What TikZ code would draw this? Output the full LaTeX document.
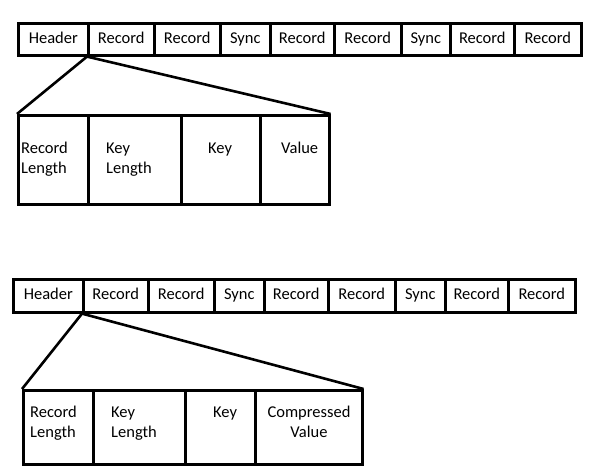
\documentclass[tikz,border=0pt]{standalone}
\usepackage{fontspec}
\setmainfont{Carlito}
\begin{document}
\begin{tikzpicture}[x=1pt,y=-1pt,
  lw/.style={line width=2.6pt},
  cell/.style={draw,lw,anchor=north west,inner sep=0pt,text height=11pt,text depth=3.5pt,font=\fontsize{16.5}{20}\selectfont},
  lbl/.style={inner sep=0pt,font=\fontsize{16.5}{20}\selectfont,align=left}]
\useasboundingbox (0,0) rectangle (596,472);
% ---------- top strip ----------
\foreach \n/\a/\b/\t in {h/17/87/Header,ra/87/153/Record,rb/153/219/Record,sa/219/269/Sync,rc/269/333/Record,rd/333/400/Record,sb/400/449/Sync,re/449/513/Record,rf/513/580/Record}{
  \pgfmathsetmacro{\w}{\b-\a}
  \node[cell,minimum width=\w pt,minimum height=32pt] (T\n) at (\a,22) {\t};
}
% top expansion boxes
\node[cell,minimum width=70pt,minimum height=89pt] (TA) at (17,114) {};
\node[cell,minimum width=93pt,minimum height=89pt] (TB) at (87,114) {};
\node[cell,minimum width=79pt,minimum height=89pt] (TC) at (180,114) {};
\node[cell,minimum width=69pt,minimum height=89pt] (TD) at (259,114) {};
\node[lbl,anchor=base west] (tla) at (21,173) {Record\\Length};
\node[lbl,anchor=base west] (tlb) at (106,173) {Key\\Length};
\node[lbl,anchor=base west] (tlc) at (208,153) {Key};
\node[lbl,anchor=base west] (tld) at (281,153) {Value};
\draw[lw,line join=round] (TA.north west) -- (Tra.south west) -- (TD.north east);
% ---------- bottom strip ----------
\foreach \n/\a/\b/\t in {h/12/82/Header,ra/82/147/Record,rb/147/213/Record,sa/213/263/Sync,rc/263/327/Record,rd/327/394/Record,sb/394/444/Sync,re/444/507/Record,rf/507/574/Record}{
  \pgfmathsetmacro{\w}{\b-\a}
  \node[cell,minimum width=\w pt,minimum height=33pt] (B\n) at (\a,278) {\t};
}
\node[cell,minimum width=70pt,minimum height=74pt] (BA) at (22,389) {};
\node[cell,minimum width=92pt,minimum height=74pt] (BB) at (92,389) {};
\node[cell,minimum width=70pt,minimum height=74pt] (BC) at (184,389) {};
\node[cell,minimum width=107pt,minimum height=74pt] (BD) at (254,389) {};
\node[lbl,anchor=base west] (bla) at (30,437) {Record\\Length};
\node[lbl,anchor=base west] (blb) at (111,437) {Key\\Length};
\node[lbl,anchor=base west] (blc) at (213,417) {Key};
\node[lbl,align=center,anchor=base] (bld) at (309,437) {Compressed\\Value};
\draw[lw,line join=round] (BA.north west) -- (Bra.south west) -- (BD.north east);
\end{tikzpicture}
\end{document}
